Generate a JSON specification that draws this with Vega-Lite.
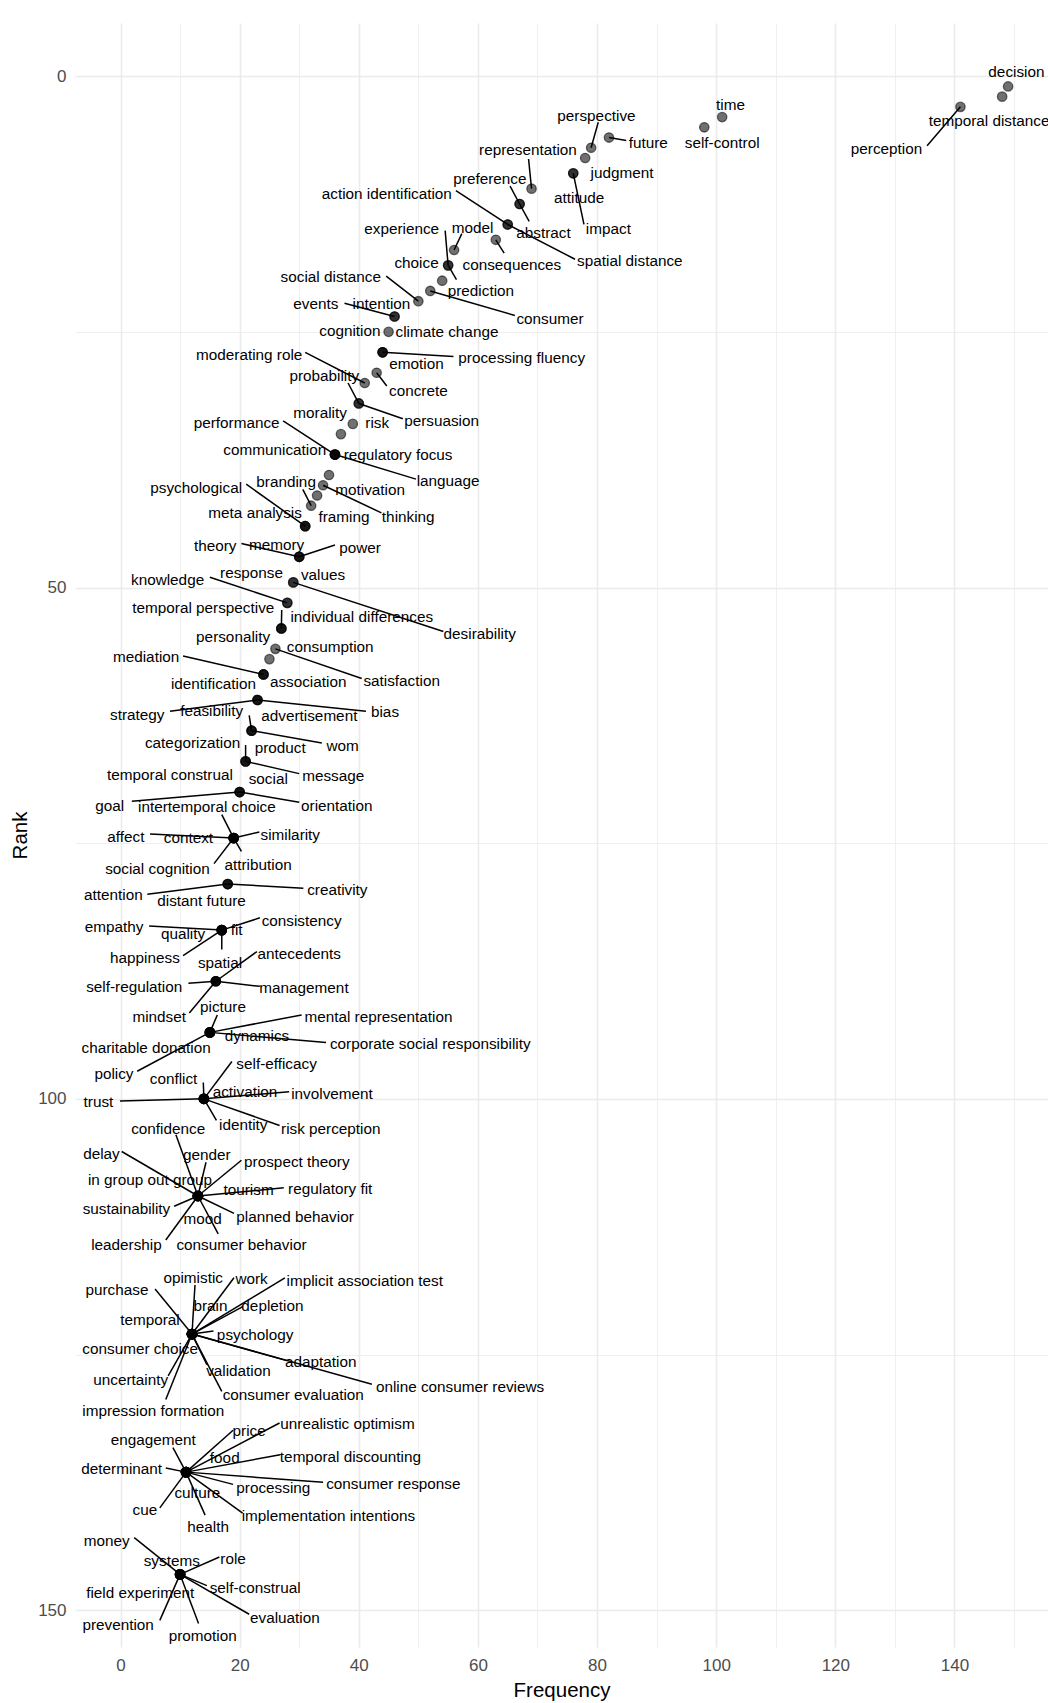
{
"$schema": "https://vega.github.io/schema/vega-lite/v6.json",
"width": 973, "height": 1624,
"autosize": {"type": "none"},
"padding": {"left": 75, "top": 23, "right": 0, "bottom": 56},
"background": "white",
"config": {"view": {"stroke": null}, "font": "Liberation Sans"},
"data": {"values": [
{"k":"decision","f":149,"r":1,"lx":150.4,"ly":-0.4},
{"k":"temporal distance","f":148,"r":2,"lx":145.8,"ly":4.4},
{"k":"perception","f":141,"r":3,"lx":128.6,"ly":7.1,"ex":135.4,"ey":6.8},
{"k":"time","f":101,"r":4,"lx":102.4,"ly":2.8},
{"k":"self-control","f":98,"r":5,"lx":101.0,"ly":6.5},
{"k":"future","f":82,"r":6,"lx":88.6,"ly":6.5,"ex":84.9,"ey":6.3},
{"k":"perspective","f":79,"r":7,"lx":79.9,"ly":3.9,"ex":80.2,"ey":4.5},
{"k":"judgment","f":78,"r":8,"lx":84.2,"ly":9.45},
{"k":"attitude","f":76,"r":9.5,"lx":77.0,"ly":11.9},
{"k":"impact","f":76,"r":9.5,"lx":81.9,"ly":14.9,"ex":77.8,"ey":14.5},
{"k":"representation","f":69,"r":11,"lx":68.4,"ly":7.2,"ex":68.5,"ey":8.1},
{"k":"preference","f":67,"r":12.5,"lx":62.0,"ly":10.1,"ex":65.4,"ey":10.75},
{"k":"abstract","f":67,"r":12.5,"lx":71.0,"ly":15.3,"ex":68.6,"ey":14.2},
{"k":"action identification","f":65,"r":14.5,"lx":44.7,"ly":11.5,"ex":56.3,"ey":11.2},
{"k":"spatial distance","f":65,"r":14.5,"lx":85.5,"ly":18.1,"ex":76.3,"ey":17.9},
{"k":"consequences","f":63,"r":16,"lx":65.7,"ly":18.5,"ex":64.4,"ey":17.3},
{"k":"model","f":56,"r":17,"lx":59.1,"ly":14.8,"ex":57.3,"ey":15.4},
{"k":"experience","f":55,"r":18.5,"lx":47.2,"ly":14.9,"ex":54.5,"ey":15.1},
{"k":"prediction","f":55,"r":18.5,"lx":60.5,"ly":21.0,"ex":56.4,"ey":19.9},
{"k":"choice","f":54,"r":20,"lx":49.7,"ly":18.25},
{"k":"consumer","f":52,"r":21,"lx":72.1,"ly":23.7,"ex":66.2,"ey":23.4},
{"k":"social distance","f":50,"r":22,"lx":35.3,"ly":19.6,"ex":44.6,"ey":19.55},
{"k":"events","f":46,"r":23.5,"lx":32.8,"ly":22.3,"ex":37.6,"ey":22.2},
{"k":"intention","f":46,"r":23.5,"lx":43.8,"ly":22.3},
{"k":"climate change","f":45,"r":25,"lx":54.8,"ly":25.0},
{"k":"cognition","f":44,"r":27,"lx":38.5,"ly":24.9},
{"k":"emotion","f":44,"r":27,"lx":49.7,"ly":28.1},
{"k":"processing fluency","f":44,"r":27,"lx":67.35,"ly":27.6,"ex":55.9,"ey":27.4},
{"k":"concrete","f":43,"r":29,"lx":50.0,"ly":30.8,"ex":44.7,"ey":30.3},
{"k":"moderating role","f":41,"r":30,"lx":21.6,"ly":27.3,"ex":31.0,"ey":27.0},
{"k":"probability","f":40,"r":32,"lx":34.2,"ly":29.3,"ex":38.2,"ey":30.0},
{"k":"persuasion","f":40,"r":32,"lx":53.9,"ly":33.7,"ex":47.4,"ey":33.5},
{"k":"risk","f":39,"r":34,"lx":43.1,"ly":33.9},
{"k":"morality","f":37,"r":35,"lx":33.5,"ly":32.9},
{"k":"performance","f":36,"r":37,"lx":19.5,"ly":33.9,"ex":27.3,"ey":33.7},
{"k":"communication","f":36,"r":37,"lx":25.9,"ly":36.6},
{"k":"regulatory focus","f":36,"r":37,"lx":46.6,"ly":37.0},
{"k":"language","f":36,"r":37,"lx":55.0,"ly":39.6,"ex":49.6,"ey":39.4},
{"k":"motivation","f":35,"r":39,"lx":41.9,"ly":40.5},
{"k":"thinking","f":34,"r":40,"lx":48.3,"ly":43.1,"ex":43.8,"ey":42.7},
{"k":"","f":33,"r":41,"lx":33,"ly":41},
{"k":"branding","f":32,"r":42,"lx":27.8,"ly":39.7,"ex":30.6,"ey":40.4},
{"k":"psychological","f":31,"r":44,"lx":12.7,"ly":40.3,"ex":21.1,"ey":39.9},
{"k":"meta analysis","f":31,"r":44,"lx":22.6,"ly":42.75},
{"k":"framing","f":31,"r":44,"lx":37.5,"ly":43.1},
{"k":"theory","f":30,"r":47,"lx":15.9,"ly":45.9,"ex":20.3,"ey":45.7},
{"k":"memory","f":30,"r":47,"lx":26.2,"ly":45.8},
{"k":"power","f":30,"r":47,"lx":40.2,"ly":46.1,"ex":36.0,"ey":45.85},
{"k":"values","f":29,"r":49.5,"lx":34.0,"ly":48.8},
{"k":"desirability","f":29,"r":49.5,"lx":60.3,"ly":54.5,"ex":54.2,"ey":54.3},
{"k":"knowledge","f":28,"r":51.5,"lx":7.9,"ly":49.3,"ex":15.0,"ey":49.0},
{"k":"response","f":28,"r":51.5,"lx":22.0,"ly":48.6},
{"k":"temporal perspective","f":27,"r":54,"lx":13.9,"ly":52.0,"ex":27.06,"ey":52.2},
{"k":"individual differences","f":27,"r":54,"lx":40.5,"ly":52.9},
{"k":"personality","f":27,"r":54,"lx":18.9,"ly":54.8},
{"k":"satisfaction","f":26,"r":56,"lx":47.2,"ly":59.1,"ex":40.5,"ey":58.9},
{"k":"consumption","f":25,"r":57,"lx":35.2,"ly":55.8},
{"k":"mediation","f":24,"r":58.5,"lx":4.3,"ly":56.8,"ex":10.5,"ey":56.7},
{"k":"identification","f":24,"r":58.5,"lx":15.6,"ly":59.4},
{"k":"association","f":24,"r":58.5,"lx":31.5,"ly":59.2},
{"k":"strategy","f":23,"r":61,"lx":2.8,"ly":62.5,"ex":8.3,"ey":62.1},
{"k":"feasibility","f":23,"r":61,"lx":15.3,"ly":62.1},
{"k":"bias","f":23,"r":61,"lx":44.4,"ly":62.2,"ex":41.2,"ey":62.1},
{"k":"advertisement","f":22,"r":64,"lx":31.7,"ly":62.6,"ex":21.6,"ey":62.5},
{"k":"wom","f":22,"r":64,"lx":37.3,"ly":65.5,"ex":33.8,"ey":65.2},
{"k":"categorization","f":22,"r":64,"lx":12.1,"ly":65.2},
{"k":"product","f":21,"r":67,"lx":26.8,"ly":65.7,"ex":21.0,"ey":65.4},
{"k":"message","f":21,"r":67,"lx":35.7,"ly":68.4,"ex":30.0,"ey":68.2},
{"k":"temporal construal","f":21,"r":67,"lx":8.3,"ly":68.3},
{"k":"social","f":20,"r":70,"lx":24.8,"ly":68.75},
{"k":"goal","f":20,"r":70,"lx":-1.8,"ly":71.4,"ex":1.9,"ey":70.9},
{"k":"orientation","f":20,"r":70,"lx":36.3,"ly":71.4,"ex":30.0,"ey":71.0},
{"k":"intertemporal choice","f":19,"r":74.5,"lx":14.5,"ly":71.5,"ex":17.0,"ey":72.2},
{"k":"affect","f":19,"r":74.5,"lx":0.9,"ly":74.4,"ex":4.95,"ey":74.1},
{"k":"context","f":19,"r":74.5,"lx":11.4,"ly":74.5},
{"k":"similarity","f":19,"r":74.5,"lx":28.5,"ly":74.2,"ex":23.3,"ey":73.9},
{"k":"social cognition","f":19,"r":74.5,"lx":6.2,"ly":77.5,"ex":15.7,"ey":77.0},
{"k":"attribution","f":19,"r":74.5,"lx":23.1,"ly":77.1,"ex":20.3,"ey":75.8},
{"k":"attention","f":18,"r":79,"lx":-1.2,"ly":80.1,"ex":4.5,"ey":80.0},
{"k":"distant future","f":18,"r":79,"lx":13.6,"ly":80.7},
{"k":"creativity","f":18,"r":79,"lx":36.4,"ly":79.6,"ex":30.7,"ey":79.4},
{"k":"empathy","f":17,"r":83.5,"lx":-1.1,"ly":83.2,"ex":4.8,"ey":83.1},
{"k":"quality","f":17,"r":83.5,"lx":10.5,"ly":83.9},
{"k":"fit","f":17,"r":83.5,"lx":19.5,"ly":83.5},
{"k":"consistency","f":17,"r":83.5,"lx":30.4,"ly":82.6,"ex":23.4,"ey":82.3},
{"k":"happiness","f":17,"r":83.5,"lx":4.1,"ly":86.2,"ex":10.5,"ey":86.0},
{"k":"spatial","f":17,"r":83.5,"lx":16.7,"ly":86.7,"ex":17.0,"ey":85.4},
{"k":"antecedents","f":16,"r":88.5,"lx":30.0,"ly":85.8,"ex":22.9,"ey":85.6},
{"k":"self-regulation","f":16,"r":88.5,"lx":2.3,"ly":89.1,"ex":11.4,"ey":88.7},
{"k":"management","f":16,"r":88.5,"lx":30.8,"ly":89.2,"ex":23.4,"ey":89.0},
{"k":"mindset","f":16,"r":88.5,"lx":6.5,"ly":92.0,"ex":11.55,"ey":91.6},
{"k":"picture","f":15,"r":93.5,"lx":17.2,"ly":91.0,"ex":16.25,"ey":91.8},
{"k":"mental representation","f":15,"r":93.5,"lx":43.3,"ly":92.0,"ex":30.4,"ey":91.8},
{"k":"charitable donation","f":15,"r":93.5,"lx":4.3,"ly":95.0},
{"k":"dynamics","f":15,"r":93.5,"lx":22.9,"ly":93.9},
{"k":"corporate social responsibility","f":15,"r":93.5,"lx":52.0,"ly":94.6,"ex":34.5,"ey":94.5},
{"k":"policy","f":15,"r":93.5,"lx":-1.1,"ly":97.6,"ex":2.8,"ey":97.3},
{"k":"conflict","f":14,"r":100,"lx":8.9,"ly":98.1,"ex":13.9,"ey":98.4},
{"k":"self-efficacy","f":14,"r":100,"lx":26.2,"ly":96.6,"ex":18.7,"ey":96.35},
{"k":"activation","f":14,"r":100,"lx":20.9,"ly":99.3},
{"k":"involvement","f":14,"r":100,"lx":35.5,"ly":99.5,"ex":28.3,"ey":99.3},
{"k":"trust","f":14,"r":100,"lx":-3.7,"ly":100.3,"ex":-0.1,"ey":100.2},
{"k":"identity","f":14,"r":100,"lx":20.6,"ly":102.6,"ex":16.1,"ey":102.1},
{"k":"risk perception","f":14,"r":100,"lx":35.3,"ly":102.9,"ex":26.7,"ey":102.6},
{"k":"confidence","f":13,"r":109.5,"lx":8.0,"ly":102.9,"ex":9.3,"ey":103.5},
{"k":"delay","f":13,"r":109.5,"lx":-3.2,"ly":105.4,"ex":0.2,"ey":105.15},
{"k":"gender","f":13,"r":109.5,"lx":14.5,"ly":105.5,"ex":14.35,"ey":106.2},
{"k":"prospect theory","f":13,"r":109.5,"lx":29.6,"ly":106.2,"ex":20.3,"ey":106.0},
{"k":"in group out group","f":13,"r":109.5,"lx":4.95,"ly":107.9},
{"k":"tourism","f":13,"r":109.5,"lx":21.5,"ly":108.9},
{"k":"regulatory fit","f":13,"r":109.5,"lx":35.2,"ly":108.8,"ex":27.4,"ey":108.7},
{"k":"sustainability","f":13,"r":109.5,"lx":1.0,"ly":110.8,"ex":9.0,"ey":110.5},
{"k":"mood","f":13,"r":109.5,"lx":13.8,"ly":111.7},
{"k":"planned behavior","f":13,"r":109.5,"lx":29.3,"ly":111.6,"ex":19.05,"ey":111.2},
{"k":"leadership","f":13,"r":109.5,"lx":1.0,"ly":114.3,"ex":7.6,"ey":113.8},
{"k":"consumer behavior","f":13,"r":109.5,"lx":20.3,"ly":114.3,"ex":16.4,"ey":113.2},
{"k":"opimistic","f":12,"r":123,"lx":12.2,"ly":117.5,"ex":12.5,"ey":118.2},
{"k":"work","f":12,"r":123,"lx":22.0,"ly":117.6,"ex":19.05,"ey":117.5},
{"k":"implicit association test","f":12,"r":123,"lx":41.0,"ly":117.8,"ex":27.6,"ey":117.5},
{"k":"purchase","f":12,"r":123,"lx":-0.6,"ly":118.7,"ex":5.8,"ey":118.6},
{"k":"brain","f":12,"r":123,"lx":15.1,"ly":120.3},
{"k":"depletion","f":12,"r":123,"lx":25.5,"ly":120.3,"ex":20.6,"ey":120.3},
{"k":"temporal","f":12,"r":123,"lx":4.95,"ly":121.6},
{"k":"psychology","f":12,"r":123,"lx":22.6,"ly":123.1,"ex":15.6,"ey":122.7},
{"k":"consumer choice","f":12,"r":123,"lx":3.3,"ly":124.5},
{"k":"adaptation","f":12,"r":123,"lx":33.6,"ly":125.7,"ex":27.9,"ey":125.6},
{"k":"validation","f":12,"r":123,"lx":19.8,"ly":126.6,"ex":14.5,"ey":126.0},
{"k":"uncertainty","f":12,"r":123,"lx":1.7,"ly":127.5,"ex":8.0,"ey":127.1},
{"k":"online consumer reviews","f":12,"r":123,"lx":57.0,"ly":128.2,"ex":42.2,"ey":127.9},
{"k":"consumer evaluation","f":12,"r":123,"lx":29.0,"ly":129.0,"ex":17.0,"ey":128.6},
{"k":"impression formation","f":12,"r":123,"lx":5.5,"ly":130.5,"ex":7.6,"ey":129.4},
{"k":"price","f":11,"r":136.5,"lx":21.6,"ly":132.5,"ex":18.9,"ey":132.4},
{"k":"unrealistic optimism","f":11,"r":136.5,"lx":38.1,"ly":131.8,"ex":26.7,"ey":131.7},
{"k":"engagement","f":11,"r":136.5,"lx":5.5,"ly":133.4,"ex":8.8,"ey":134.1},
{"k":"food","f":11,"r":136.5,"lx":17.5,"ly":135.1},
{"k":"temporal discounting","f":11,"r":136.5,"lx":38.6,"ly":135.0,"ex":26.8,"ey":134.8},
{"k":"determinant","f":11,"r":136.5,"lx":0.2,"ly":136.2,"ex":7.6,"ey":136.1},
{"k":"processing","f":11,"r":136.5,"lx":25.65,"ly":138.1,"ex":18.9,"ey":137.7},
{"k":"consumer response","f":11,"r":136.5,"lx":45.8,"ly":137.7,"ex":34.0,"ey":137.5},
{"k":"culture","f":11,"r":136.5,"lx":12.9,"ly":138.55},
{"k":"cue","f":11,"r":136.5,"lx":4.1,"ly":140.2,"ex":6.6,"ey":140.0},
{"k":"implementation intentions","f":11,"r":136.5,"lx":34.9,"ly":140.8,"ex":20.5,"ey":140.5},
{"k":"health","f":11,"r":136.5,"lx":14.7,"ly":141.9,"ex":14.2,"ey":140.7},
{"k":"money","f":10,"r":146.5,"lx":-2.3,"ly":143.2,"ex":2.3,"ey":142.9},
{"k":"systems","f":10,"r":146.5,"lx":8.6,"ly":145.2},
{"k":"role","f":10,"r":146.5,"lx":18.9,"ly":145.0,"ex":16.6,"ey":144.8},
{"k":"field experiment","f":10,"r":146.5,"lx":3.3,"ly":148.3},
{"k":"self-construal","f":10,"r":146.5,"lx":22.6,"ly":147.8,"ex":14.5,"ey":147.6},
{"k":"prevention","f":10,"r":146.5,"lx":-0.4,"ly":151.4,"ex":6.6,"ey":151.0},
{"k":"promotion","f":10,"r":146.5,"lx":13.8,"ly":152.5,"ex":13.1,"ey":151.3},
{"k":"evaluation","f":10,"r":146.5,"lx":27.6,"ly":150.8,"ex":21.6,"ey":150.4}
]},
"layer": [
{"mark": {"type": "circle", "size": 88, "fill": "#000", "fillOpacity": 0.56, "stroke": "#000", "strokeOpacity": 0.56, "strokeWidth": 1.3},
 "encoding": {
  "x": {"field": "f", "type": "quantitative", "title": "Frequency",
        "scale": {"domain": [-7.64, 155.7], "nice": false, "zero": false},
        "axis": {"values": [0,10,20,30,40,50,60,70,80,90,100,110,120,130,140,150],
                 "labelExpr": "datum.value % 20 === 0 ? datum.label : ''",
                 "grid": true, "gridColor": "#ebebeb",
                 "gridWidth": {"condition": {"test": "datum.value % 20 === 0", "value": 1.6}, "value": 0.8},
                 "ticks": false, "domain": false, "labelFontSize": 17, "labelColor": "#4d4d4d",
                 "labelPadding": 10, "titleFontSize": 20.5, "titleColor": "#000", "titleFontWeight": "normal",
                 "titleY": 43, "titleBaseline": "middle"}},
  "y": {"field": "r", "type": "quantitative", "title": "Rank",
        "scale": {"domain": [-5.2, 153.6], "nice": false, "zero": false, "reverse": true},
        "axis": {"values": [0,25,50,75,100,125,150],
                 "labelExpr": "datum.value % 50 === 0 ? datum.label : ''",
                 "grid": true, "gridColor": "#ebebeb",
                 "gridWidth": {"condition": {"test": "datum.value % 50 === 0", "value": 1.6}, "value": 0.8},
                 "ticks": false, "domain": false, "labelFontSize": 17, "labelColor": "#4d4d4d",
                 "labelPadding": 9, "titleFontSize": 20.5, "titleColor": "#000", "titleFontWeight": "normal",
                 "titleX": -55, "titleY": 812, "titleAngle": -90, "titleAlign": "center", "titleBaseline": "middle"}}
 }},
{"transform": [{"filter": "isValid(datum.ex)"}],
 "mark": {"type": "rule", "color": "#000", "strokeWidth": 1.5},
 "encoding": {
  "x": {"field": "f", "type": "quantitative", "title": "Frequency"},
  "y": {"field": "r", "type": "quantitative", "title": "Rank"},
  "x2": {"field": "ex"}, "y2": {"field": "ey"}}},
{"mark": {"type": "text", "fontSize": 15.3, "color": "#000", "align": "center", "baseline": "middle"},
 "encoding": {
  "x": {"field": "lx", "type": "quantitative", "title": "Frequency"},
  "y": {"field": "ly", "type": "quantitative", "title": "Rank"},
  "text": {"field": "k"}}}
]
}
